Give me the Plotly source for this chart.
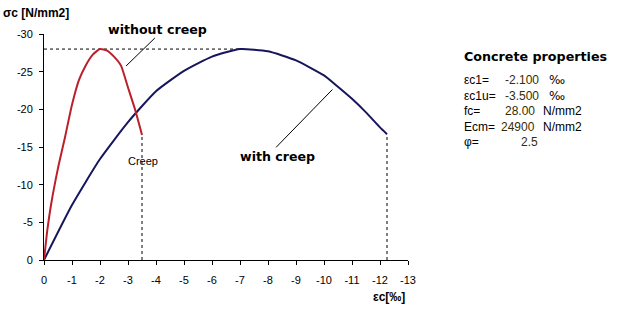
import plotly.graph_objects as go

# ---- data ----
eps_no_creep = [0, -0.12, -0.25, -0.5, -0.75, -1.0, -1.25, -1.5, -1.75, -2.0, -2.25, -2.5, -2.75, -3.0, -3.25, -3.5]
sig_no_creep = [0, -4.0, -7.3, -12.2, -16.3, -20.6, -23.9, -25.9, -27.3, -28.0, -27.8, -27.0, -25.8, -22.9, -20.0, -16.6]

eps_creep = [0, -1, -2, -3, -4, -5, -6, -7, -8, -9, -10, -10.4, -11, -11.5, -12, -12.25]
sig_creep = [0, -7.3, -13.4, -18.3, -22.4, -25.1, -27.0, -28.0, -27.7, -26.5, -24.5, -23.3, -21.4, -19.6, -17.6, -16.7]

peak_line_eps = [0, -7.0]
peak_line_sig = [-28.0, -28.0]
cu_no_creep_eps = [-3.5, -3.5]
cu_no_creep_sig = [0, -16.6]
cu_creep_eps = [-12.25, -12.25]
cu_creep_sig = [0, -16.7]

x_ticks = [0, -1, -2, -3, -4, -5, -6, -7, -8, -9, -10, -11, -12, -13]
x_tick_text = ["0", "-1", "-2", "-3", "-4", "-5", "-6", "-7", "-8", "-9", "-10", "-11", "-12", "-13"]
y_ticks = [0, -5, -10, -15, -20, -25, -30]
y_tick_text = ["0", "-5", "-10", "-15", "-20", "-25", "-30"]

prop_labels = ["εc1=", "εc1u=", "fc=", "Ecm=", "φ="]
prop_values = ["-2.100", "-3.500", "28.00", "24900", "2.5"]
prop_units = ["‰", "‰", "N/mm2", "N/mm2", ""]

FONT = "Arial, Liberation Sans, sans-serif"
BOLD_FONT = "DejaVu Sans, Arial, sans-serif"

# plot area in pixels
L, R, T, B = 44, 408, 34, 260
W, H = 623, 309


def px(x):
    return (x - L) / (R - L)


def py(y):
    return (B - y) / (B - T)


fig = go.Figure()

dash_style = dict(color="black", width=1, dash="3px,3px")
fig.add_trace(go.Scatter(x=peak_line_eps, y=peak_line_sig, mode="lines", line=dash_style, hoverinfo="skip"))
fig.add_trace(go.Scatter(x=cu_no_creep_eps, y=cu_no_creep_sig, mode="lines", line=dash_style, hoverinfo="skip"))
fig.add_trace(go.Scatter(x=cu_creep_eps, y=cu_creep_sig, mode="lines", line=dash_style, hoverinfo="skip"))

fig.add_trace(go.Scatter(x=eps_creep, y=sig_creep, mode="lines",
                         line=dict(color="#16165c", width=2, shape="spline", smoothing=0.5), name="with creep"))
fig.add_trace(go.Scatter(x=eps_no_creep, y=sig_no_creep, mode="lines",
                         line=dict(color="#bb1f2a", width=2, shape="spline", smoothing=0.5), name="without creep"))

# leader lines
fig.add_shape(type="line", xref="x", yref="y", x0=-3.96, y0=-29.47, x1=-2.93, y1=-25.75,
              line=dict(color="black", width=1))
fig.add_shape(type="line", xref="x", yref="y", x0=-8.29, y0=-14.96, x1=-10.30, y1=-22.63,
              line=dict(color="black", width=1))

ann = []
ann.append(dict(x=px(106), y=py(29), xref="paper", yref="paper", text="<b>without creep</b>",
                xanchor="left", yanchor="middle", showarrow=False, font=dict(size=12.6, family=BOLD_FONT, color="black")))
ann.append(dict(x=px(238), y=py(156), xref="paper", yref="paper", text="<b>with creep</b>",
                xanchor="left", yanchor="middle", showarrow=False, font=dict(size=12.6, family=BOLD_FONT, color="black")))
ann.append(dict(x=px(126), y=py(160.5), xref="paper", yref="paper", text="Creep",
                xanchor="left", yanchor="middle", showarrow=False, font=dict(size=11, family=FONT, color="black")))
ann.append(dict(x=px(1), y=py(13), xref="paper", yref="paper", text="<b>σc [N/mm2]</b>",
                xanchor="left", yanchor="middle", showarrow=False, font=dict(size=12, family=FONT, color="black")))
ann.append(dict(x=px(407), y=py(297), xref="paper", yref="paper", text="<b>εc[‰]</b>",
                xanchor="right", yanchor="middle", showarrow=False, font=dict(size=12, family=FONT, color="black")))
ann.append(dict(x=px(462), y=py(56), xref="paper", yref="paper", text="<b>Concrete properties</b>",
                xanchor="left", yanchor="middle", showarrow=False, font=dict(size=12.7, family=BOLD_FONT, color="black")))

row_y = [80, 95.7, 111, 126.7, 142.3]
value_right = [541, 541, 537, 537, 540]
unit_left = [547, 547, 541, 541, 541]
for lab, val, unit, yy, vr, ul in zip(prop_labels, prop_values, prop_units, row_y, value_right, unit_left):
    ann.append(dict(x=px(462), y=py(yy), xref="paper", yref="paper", text=lab,
                    xanchor="left", yanchor="middle", showarrow=False, font=dict(size=12, family=FONT, color="black")))
    ann.append(dict(x=px(vr), y=py(yy), xref="paper", yref="paper", text=val,
                    xanchor="right", yanchor="middle", showarrow=False, font=dict(size=12, family=FONT, color="#3a2c00")))
    if unit:
        ann.append(dict(x=px(ul), y=py(yy), xref="paper", yref="paper", text=unit,
                        xanchor="left", yanchor="middle", showarrow=False,
                        font=dict(size=12, family="DejaVu Sans, sans-serif" if unit == "‰" else FONT, color="#000000")))

fig.update_layout(
    width=W, height=H,
    margin=dict(l=L, r=W - R, t=T, b=H - B, pad=0),
    paper_bgcolor="white", plot_bgcolor="white",
    showlegend=False,
    annotations=ann,
    font=dict(family=FONT, size=11, color="black"),
)
fig.update_xaxes(range=[0, -13], tickvals=x_ticks, ticktext=x_tick_text,
                 showgrid=False, zeroline=False, showline=True, linecolor="black", linewidth=1,
                 ticks="outside", ticklen=4, tickcolor="black", tickwidth=1,
                 tickfont=dict(size=11, family=FONT, color="black"), ticklabelstandoff=6)
fig.update_yaxes(range=[0, -30], tickvals=y_ticks, ticktext=y_tick_text,
                 showgrid=False, zeroline=False, showline=True, linecolor="black", linewidth=1,
                 ticks="outside", ticklen=4, tickcolor="black", tickwidth=1,
                 tickfont=dict(size=11, family=FONT, color="black"), ticklabelstandoff=4)

fig.write_html("out.html")
